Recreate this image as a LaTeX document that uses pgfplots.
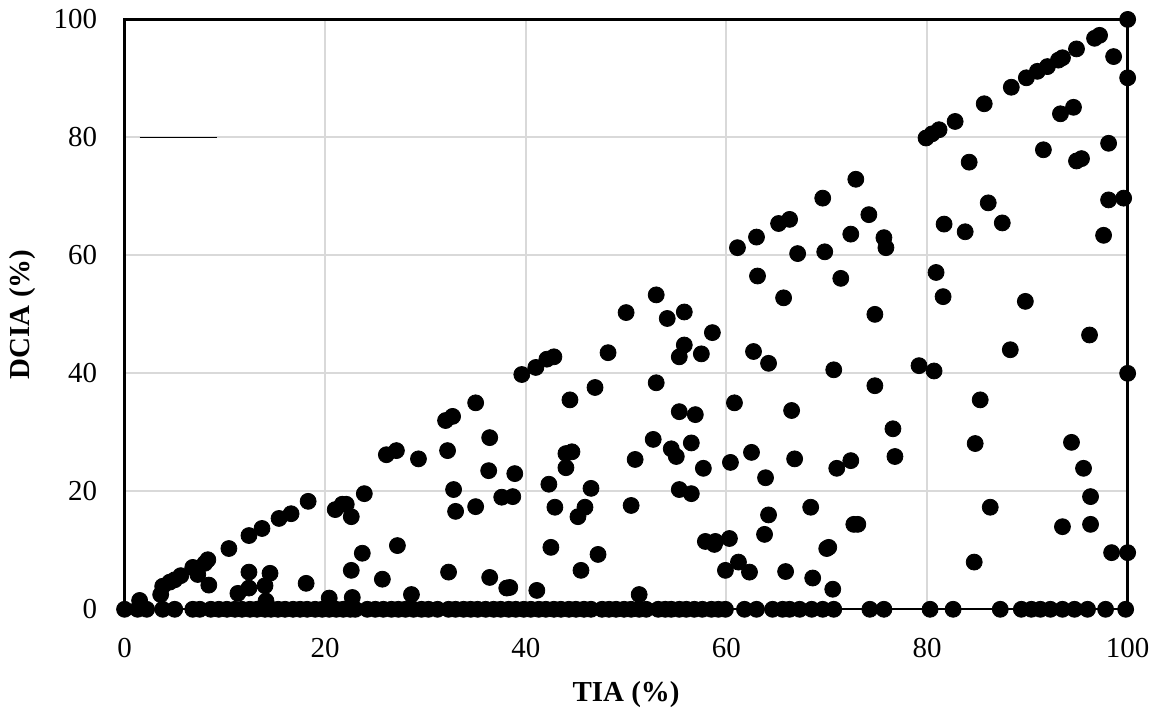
\documentclass[border=0pt]{standalone}
\usepackage{pgfplots}
\pgfplotsset{compat=1.18}
\usepackage{fontspec}
\setmainfont{Liberation Serif}
\begin{document}
\fontsize{14.5}{17}\selectfont
\begin{tikzpicture}
\begin{axis}[
  scale only axis,
  width=502.5pt, height=295.5pt,
  xmin=0, xmax=100, ymin=0, ymax=100,
  xtick={0,20,...,100}, ytick={0,20,...,100},
  grid=major,
  major grid style={draw=black!15, line width=1pt},
  axis line style={black, line width=1.2pt},
  major tick length=0pt,
  clip=false,
  /pgf/number format/assume math mode=true,
  ticklabel style={font=\fontsize{14.5}{17}\selectfont},
  xticklabel style={yshift=-9.5pt},
  yticklabel style={xshift=-8.7pt},
  xlabel={\textbf{TIA (\%)}},
  ylabel={\textbf{DCIA (\%)}},
  label style={font=\fontsize{14.5}{17}\selectfont},
  xlabel style={at={(axis description cs:0.5,0)}, anchor=center, yshift=-42.5pt},
  ylabel style={at={(axis description cs:0,0.5)}, anchor=center, rotate=0, yshift=51pt},
]
\addplot[black, line width=0.6pt, forget plot] coordinates {(1.5,80) (9.2,80)};
% zero DCIA points
\addplot[only marks, mark=*, mark size=4pt, draw=black, fill=black] coordinates {
(0,0) (1.3,0) (2.2,0) (3.8,0) (5.0,0)
(6.8,0) (7.5,0) (8.6,0) (9.4,0) (10.2,0) (11.0,0) (11.7,0) (12.5,0) (13.2,0) (14.0,0)
(14.6,0) (15.3,0) (16.0,0) (16.8,0) (17.5,0) (18.2,0) (19.0,0) (19.7,0) (20.4,0)
(21.1,0) (21.8,0) (22.5,0) (23.0,0)
(24.2,0) (25.0,0) (25.8,0) (26.6,0) (27.3,0) (28.0,0) (28.8,0) (29.6,0) (30.3,0) (31.2,0)
(32.3,0) (33.0,0) (33.8,0) (34.5,0) (35.2,0) (36.0,0) (36.8,0) (37.5,0) (38.3,0) (39.0,0)
(39.8,0) (40.5,0) (41.3,0) (42.0,0) (42.8,0) (43.5,0) (44.3,0) (45.0,0) (45.8,0) (46.5,0)
(47.6,0) (48.3,0) (49.0,0) (49.8,0) (50.5,0) (51.3,0) (52.0,0)
(53.2,0) (53.9,0) (54.5,0)
(55.3,0) (56.0,0) (56.8,0) (57.6,0)
(58.5,0) (59.2,0) (59.9,0)
(61.8,0) (63.0,0) (64.6,0) (65.6,0) (66.3,0) (67.3,0) (68.5,0) (69.6,0) (70.7,0)
(74.3,0) (75.7,0) (80.3,0) (82.6,0) (87.3,0) (89.4,0) (90.4,0) (91.3,0) (92.3,0)
(93.5,0) (94.7,0) (96.0,0) (97.8,0) (99.8,0)
};
% non-zero points
\addplot[only marks, mark=*, mark size=4pt, draw=black, fill=black] coordinates {
(1.5,1.5) (3.6,2.5) (3.8,3.9) (4.5,4.6) (5.0,5.0) (5.6,5.7) (6.8,7.1) (7.3,5.9)
(8.0,7.8) (8.3,8.4) (8.4,4.1) (10.4,10.3) (11.3,2.7) (12.4,6.3) (12.4,3.6) (12.4,12.5)
(13.7,13.7) (14.0,4.0) (14.1,1.4) (14.5,6.1) (15.4,15.4) (16.6,16.2) (18.1,4.4) (18.3,18.3)
(20.4,1.9) (21.0,16.9) (21.7,17.8) (22.1,17.8) (22.6,15.7) (22.6,6.6) (22.7,2.0) (23.7,9.5)
(23.9,19.6) (25.7,5.1) (26.1,26.2) (27.1,26.9) (27.2,10.8) (28.6,2.5) (29.3,25.5)
(32.0,32.0) (32.7,32.7) (32.2,26.9) (32.8,20.3) (33.0,16.6) (32.3,6.3)
(35.0,35.0) (36.4,29.1) (36.3,23.5) (35.0,17.4) (37.6,19.0) (38.7,19.1) (38.9,23.0)
(36.4,5.4) (38.1,3.6) (38.4,3.7) (39.6,39.8) (41.0,41.0) (42.1,42.4) (42.8,42.8)
(41.1,3.2) (42.3,21.2) (42.9,17.3) (42.5,10.5) (44.4,35.5) (44.0,26.4) (44.6,26.7)
(44.0,24.0) (45.2,15.7) (45.9,17.3) (46.5,20.5) (45.5,6.6) (47.2,9.3) (46.9,37.6)
(48.2,43.5) (50.0,50.3) (53.0,53.3) (54.1,49.3) (55.8,50.4) (55.8,44.8) (55.3,42.8)
(57.5,43.3) (58.6,46.9) (53.0,38.4) (50.9,25.4) (52.7,28.8) (50.5,17.6) (51.3,2.5)
(55.3,33.5) (56.9,33.0) (54.5,27.2) (55.0,25.9) (56.5,28.2) (55.3,20.3) (56.5,19.6)
(57.7,23.9) (57.9,11.5) (58.9,11.5) (58.8,11.0) (60.3,12.0) (60.8,35.0) (60.4,24.9)
(59.9,6.6) (61.2,8.0) (62.3,6.3) (62.5,26.6) (62.7,43.7) (64.2,41.7) (63.9,22.3)
(64.2,16.0) (63.8,12.7) (65.9,6.4) (63.1,56.5) (65.7,52.8)
(74.8,50.0) (81.6,53.0) (89.8,52.2) (96.2,46.5) (88.3,44.0) (70.7,40.6) (79.2,41.3)
(80.7,40.4) (100,40.0) (74.8,37.9) (66.5,33.7) (85.3,35.5) (76.6,30.6) (84.8,28.1)
(94.4,28.3) (66.8,25.5) (71.0,23.9) (72.4,25.2) (76.8,25.9) (95.6,23.9) (96.3,19.1)
(68.4,17.3) (72.7,14.4) (73.1,14.4) (86.3,17.3) (93.5,14.0) (96.3,14.4) (70.0,10.3)
(70.2,10.5) (98.4,9.6) (100,9.6) (68.6,5.3) (70.6,3.4) (84.7,8.0)
(100,100) (96.7,96.8) (97.2,97.3) (98.6,93.7) (100,90.1) (94.9,95.0) (93.1,93.1)
(93.5,93.5) (92.0,92.0) (91.0,91.2) (89.9,90.1) (88.4,88.5) (85.7,85.7) (82.8,82.7)
(81.2,81.3) (80.5,80.6) (79.9,79.9) (93.3,84.0) (94.6,85.1) (84.2,75.8) (91.6,77.9)
(98.1,79.0) (94.9,76.0) (95.4,76.4) (98.1,69.4) (99.6,69.7) (97.6,63.4) (86.1,68.9)
(87.5,65.5) (81.7,65.3) (83.8,64.0) (80.9,57.1) (72.9,72.9) (69.6,69.7) (74.2,66.9)
(66.3,66.1) (65.2,65.4) (63.0,63.1) (61.1,61.3) (67.1,60.3) (69.8,60.6) (72.4,63.6)
(75.7,63.0) (75.9,61.3) (71.4,56.1)
};
\end{axis}
\end{tikzpicture}
\end{document}
